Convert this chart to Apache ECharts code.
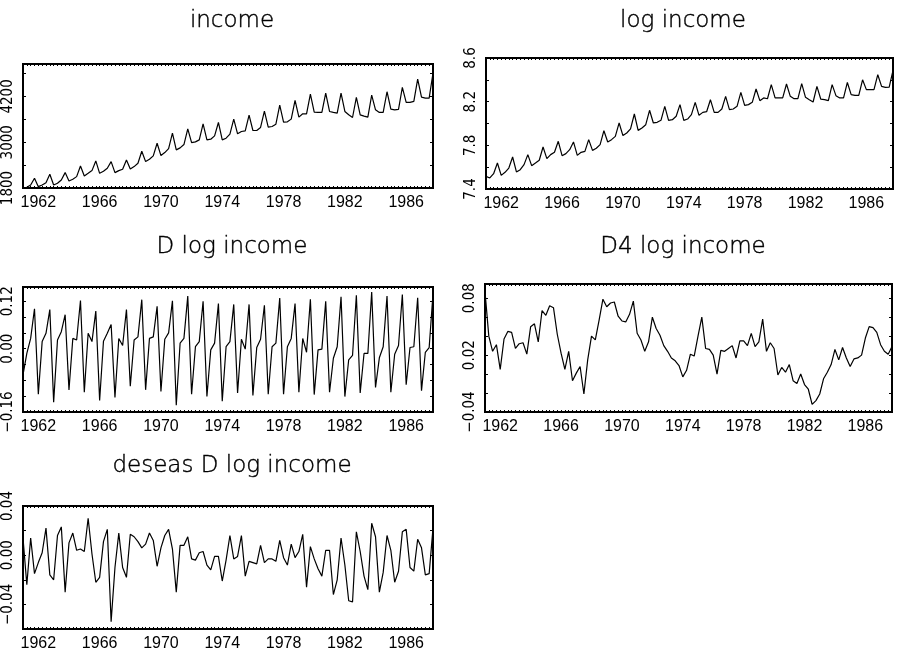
<!DOCTYPE html>
<html>
<head>
<meta charset="utf-8">
<script src="https://cdn.jsdelivr.net/npm/echarts@6/dist/echarts.min.js"></script>
<style>
html,body{margin:0;padding:0;background:#fff;}
#c{width:901px;height:652px;}
</style>
</head>
<body>
<div id="c"></div>
<script>
// ---------- data (quarterly, 1961Q1 - 1987Q4) ----------
const years = [];
for (let y = 1961; y <= 1987; y++) years.push(y);
const quarters = [1, 2, 3, 4];
const categories = [];
years.forEach(y => quarters.forEach(q => categories.push(y + '-' + q)));

const yearTickLabels = [1962, 1966, 1970, 1974, 1978, 1982, 1986];

const income = [
  1809, 1818, 1879, 2054,
  1835, 1879, 1940, 2159,
  1879, 1923, 2010, 2203,
  1984, 2028, 2098, 2378,
  2115, 2185, 2256, 2510,
  2185, 2238, 2317, 2492,
  2203, 2256, 2291, 2536,
  2299, 2361, 2448, 2764,
  2492, 2553, 2641, 2974,
  2650, 2729, 2834, 3237,
  2799, 2851, 2939, 3351,
  2991, 3009, 3061, 3482,
  3061, 3079, 3167, 3517,
  3061, 3105, 3210, 3605,
  3219, 3280, 3298, 3710,
  3307, 3307, 3386, 3815,
  3394, 3412, 3473, 3972,
  3526, 3534, 3605, 4095,
  3657, 3745, 3745, 4262,
  3789, 3780, 3780, 4288,
  3806, 3780, 3762, 4288,
  3806, 3718, 3648, 4174,
  3718, 3683, 3657, 4235,
  3850, 3780, 3780, 4323,
  3867, 3850, 3859, 4437,
  4043, 4043, 4069, 4656,
  4183, 4156, 4156, 4813
];

const logIncome = [
  7.516, 7.501, 7.540, 7.638,
  7.525, 7.553, 7.592, 7.693,
  7.556, 7.577, 7.623, 7.715,
  7.614, 7.638, 7.663, 7.785,
  7.678, 7.715, 7.736, 7.837,
  7.705, 7.724, 7.760, 7.831,
  7.708, 7.736, 7.745, 7.852,
  7.754, 7.773, 7.806, 7.934,
  7.831, 7.852, 7.882, 8.005,
  7.889, 7.913, 7.950, 8.087,
  7.937, 7.959, 7.989, 8.121,
  8.005, 8.011, 8.029, 8.157,
  8.029, 8.035, 8.066, 8.173,
  8.029, 8.041, 8.081, 8.194,
  8.075, 8.102, 8.108, 8.218,
  8.102, 8.102, 8.133, 8.249,
  8.127, 8.133, 8.157, 8.285,
  8.166, 8.173, 8.194, 8.316,
  8.209, 8.234, 8.227, 8.356,
  8.234, 8.234, 8.234, 8.362,
  8.249, 8.227, 8.227, 8.365,
  8.240, 8.218, 8.197, 8.340,
  8.224, 8.218, 8.209, 8.356,
  8.255, 8.234, 8.234, 8.376,
  8.264, 8.258, 8.258, 8.400,
  8.310, 8.310, 8.310, 8.447,
  8.340, 8.331, 8.334, 8.487
];

const dLogIncome = [
  -0.066, -0.012, 0.026, 0.101,
  -0.115, 0.018, 0.039, 0.099,
  -0.135, 0.022, 0.043, 0.086,
  -0.104, 0.026, 0.022, 0.122,
  -0.110, 0.039, 0.018, 0.095,
  -0.131, 0.019, 0.039, 0.061,
  -0.123, 0.026, 0.008, 0.099,
  -0.095, 0.022, 0.030, 0.124,
  -0.104, 0.026, 0.030, 0.107,
  -0.108, 0.024, 0.040, 0.121,
  -0.143, 0.014, 0.026, 0.133,
  -0.115, 0.005, 0.018, 0.120,
  -0.121, -0.003, 0.014, 0.114,
  -0.133, 0.005, 0.018, 0.112,
  -0.112, 0.024, -0.001, 0.112,
  -0.118, 0.003, 0.024, 0.110,
  -0.115, 0.005, 0.014, 0.128,
  -0.115, 0.005, 0.026, 0.114,
  -0.110, 0.026, -0.009, 0.125,
  -0.116, -0.003, -0.001, 0.120,
  -0.110, -0.024, 0.005, 0.131,
  -0.121, -0.028, -0.017, 0.135,
  -0.112, -0.012, -0.012, 0.143,
  -0.098, -0.023, 0.005, 0.133,
  -0.110, -0.014, 0.008, 0.137,
  -0.091, 0.003, 0.005, 0.129,
  -0.106, -0.009, 0.003, 0.139
];

const d4LogIncome = [
  0.087, 0.040, 0.024, 0.031,
  0.005, 0.037, 0.045, 0.044,
  0.027, 0.032, 0.033, 0.021,
  0.050, 0.053, 0.034, 0.067,
  0.062, 0.072, 0.070, 0.042,
  0.022, 0.005, 0.024, -0.007,
  0.001, 0.008, -0.021, 0.015,
  0.040, 0.036, 0.057, 0.079,
  0.071, 0.075, 0.076, 0.061,
  0.056, 0.055, 0.063, 0.077,
  0.043, 0.036, 0.024, 0.034,
  0.060, 0.048, 0.041, 0.030,
  0.024, 0.017, 0.014, 0.009,
  -0.003, 0.004, 0.021, 0.019,
  0.040, 0.060, 0.027, 0.026,
  0.020, 0.000, 0.025, 0.024,
  0.027, 0.030, 0.017, 0.035,
  0.035, 0.030, 0.043, 0.029,
  0.034, 0.058, 0.024, 0.033,
  0.027, -0.001, 0.007, 0.002,
  0.010, -0.007, -0.010, 0.000,
  -0.011, -0.016, -0.032, -0.028,
  -0.021, -0.005, 0.002, 0.010,
  0.026, 0.015, 0.028, 0.017,
  0.008, 0.016, 0.017, 0.020,
  0.038, 0.050, 0.049, 0.044,
  0.031, 0.024, 0.021, 0.029
];

const deseasDLogIncome = [
  0.014, -0.024, 0.014, -0.015,
  -0.006, 0.002, 0.022, -0.016,
  -0.020, 0.016, 0.023, -0.030,
  0.010, 0.018, 0.004, 0.005,
  0.003, 0.030, 0.001, -0.022,
  -0.018, 0.011, 0.021, -0.054,
  -0.010, 0.018, -0.010, -0.018,
  0.017, 0.015, 0.011, 0.006,
  0.009, 0.018, 0.012, -0.009,
  0.006, 0.016, 0.021, 0.005,
  -0.030, 0.008, 0.008, 0.015,
  -0.003, -0.004, 0.002, 0.003,
  -0.008, -0.012, -0.001, -0.001,
  -0.021, -0.004, 0.016, -0.003,
  -0.001, 0.016, -0.017, -0.005,
  -0.006, -0.007, 0.008, -0.006,
  -0.003, -0.003, -0.005, 0.012,
  -0.002, -0.008, 0.009, -0.002,
  0.003, 0.017, -0.026, 0.007,
  -0.003, -0.011, -0.017, 0.004,
  0.004, -0.032, -0.020, 0.014,
  -0.008, -0.037, -0.038, 0.019,
  0.003, -0.017, -0.028, 0.026,
  0.015, -0.030, -0.014, 0.016,
  0.004, -0.022, -0.013, 0.019,
  0.021, -0.010, -0.013, 0.013,
  0.006, -0.016, -0.015, 0.022
];

// y-axis tick labels per panel
const incomeTicks = [1800, 3000, 4200];
const logIncomeTicks = [7.4, 7.8, 8.2, 8.6];
const dLogTicks = [-0.16, 0.00, 0.12];
const d4LogTicks = [-0.04, 0.02, 0.08];
const deseasTicks = [-0.04, 0.00, 0.04];

// ---------- chart ----------
const panels = [
  {title: 'income', data: income, ticks: incomeTicks, dec: 0,
   min: 1800, max: 5050, interval: 600,
   grid: {left: 23, top: 64, width: 410, height: 124}, tx: 227, ty: 5},
  {title: 'log income', data: logIncome, ticks: logIncomeTicks, dec: 1,
   min: 7.4, max: 8.6, interval: 0.2,
   grid: {left: 486, top: 58, width: 407, height: 131}, tx: 678, ty: 5},
  {title: 'D log income', data: dLogIncome, ticks: dLogTicks, dec: 2,
   min: -0.16, max: 0.156, interval: 0.04,
   grid: {left: 23, top: 287, width: 410, height: 125}, tx: 227, ty: 231},
  {title: 'D4 log income', data: d4LogIncome, ticks: d4LogTicks, dec: 2,
   min: -0.04, max: 0.095, interval: 0.02,
   grid: {left: 485, top: 284, width: 407, height: 128}, tx: 678, ty: 231},
  {title: 'deseas D log income', data: deseasDLogIncome, ticks: deseasTicks, dec: 2,
   min: -0.06, max: 0.04, interval: 0.02,
   grid: {left: 23, top: 506, width: 410, height: 129}, tx: 227, ty: 450}
];

const black = '#000';
const option = {
  backgroundColor: '#fff',
  animation: false,
  title: [], grid: [], xAxis: [], yAxis: [], series: []
};

function yFormatter(p) {
  return function (v) {
    for (const t of p.ticks) {
      if (Math.abs(v - t) < p.interval * 1e-3) {
        let s = Math.abs(t) < 1e-12 ? (0).toFixed(p.dec) : t.toFixed(p.dec);
        return s.replace('-', '\u2212');
      }
    }
    return '';
  };
}

panels.forEach((p, i) => {
  option.title.push({
    text: p.title, left: p.tx, top: p.ty, textAlign: 'center',
    textStyle: {fontFamily: 'DejaVu Sans', fontSize: 23, fontWeight: 200, color: black,
      textBorderColor: black, textBorderWidth: 0.4}
  });
  option.grid.push(Object.assign({show: true, borderColor: black, borderWidth: 2, backgroundColor: '#fff'}, p.grid));
  const xBase = {
    type: 'category', data: categories, gridIndex: i, boundaryGap: false,
    axisLine: {show: true, onZero: false, lineStyle: {color: black, width: 2}},
    axisTick: {show: true, inside: true, length: 2, interval: 0, lineStyle: {color: black, width: 1}},
    splitLine: {show: false}
  };
  option.xAxis.push(Object.assign({}, xBase, {
    position: 'bottom',
    axisLabel: {
      show: true, color: black, fontFamily: 'Liberation Sans', fontSize: 16, margin: 7,
      interval: (idx, val) => {
        const [y, q] = val.split('-').map(Number);
        return q === 1 && yearTickLabels.indexOf(y) >= 0;
      },
      formatter: val => val.split('-')[0]
    }
  }));
  option.xAxis.push(Object.assign({}, xBase, {position: 'top', axisLabel: {show: false}}));
  const yBase = {
    type: 'value', gridIndex: i, min: p.min, max: p.max, interval: p.interval, scale: true,
    axisLine: {show: true, onZero: false, lineStyle: {color: black, width: 2}},
    axisTick: {show: true, inside: true, length: 3, lineStyle: {color: black, width: 1}},
    splitLine: {show: false}
  };
  option.yAxis.push(Object.assign({}, yBase, {
    position: 'left',
    axisLabel: {
      show: true, rotate: 90, color: black, margin: 7,
      fontFamily: "'Liberation Sans Narrow', 'DejaVu Sans Condensed', 'Liberation Sans'", fontSize: 15,
      showMinLabel: true, showMaxLabel: true, hideOverlap: false,
      formatter: yFormatter(p)
    }
  }));
  option.yAxis.push(Object.assign({}, yBase, {position: 'right', axisLabel: {show: false}}));
  option.series.push({
    type: 'line', xAxisIndex: 2 * i, yAxisIndex: 2 * i, data: p.data,
    showSymbol: false, symbol: 'none',
    lineStyle: {color: black, width: 1.2}, silent: true
  });
});

const chart = echarts.init(document.getElementById('c'), null, {renderer: 'canvas'});
chart.setOption(option);
</script>
</body>
</html>
